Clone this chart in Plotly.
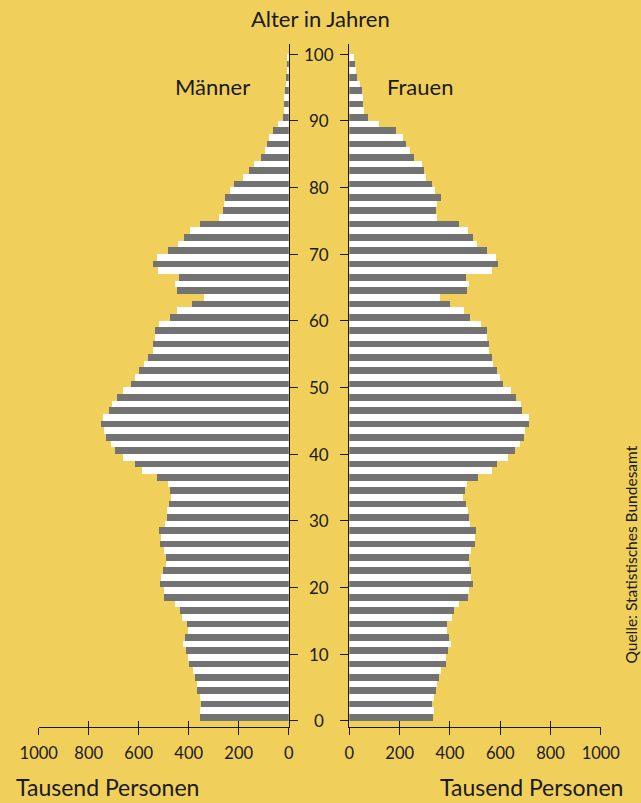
import plotly.graph_objects as go

# ---------------- data ----------------
ages = list(range(100))  # age in years, 0 .. 99

men = [358, 358, 354, 358, 370, 370, 378, 386, 402, 406,
       414, 426, 418, 406, 410, 430, 438, 458, 502, 502,
       518, 514, 506, 494, 494, 502, 518, 514, 522, 498,
       490, 490, 482, 474, 478, 486, 530, 590, 618, 666,
       698, 714, 734, 742, 754, 746, 722, 710, 690, 666,
       634, 618, 602, 582, 566, 546, 546, 538, 538, 522,
       478, 450, 390, 342, 450, 458, 442, 526, 546, 530,
       486, 446, 422, 398, 358, 282, 266, 262, 258, 238,
       222, 186, 162, 142, 114, 98, 90, 82, 66, 46,
       26, 22, 22, 20, 18, 14, 14, 10, 10, 8]

women = [336, 340, 332, 340, 348, 352, 356, 364, 384, 384,
         392, 404, 396, 388, 388, 408, 416, 436, 475, 479,
         495, 487, 487, 479, 479, 487, 503, 503, 507, 483,
         479, 475, 467, 455, 463, 471, 515, 567, 590, 634,
         662, 682, 698, 702, 714, 714, 690, 686, 666, 646,
         614, 602, 590, 574, 570, 555, 555, 547, 547, 527,
         483, 459, 400, 360, 471, 479, 467, 567, 594, 586,
         547, 511, 495, 475, 439, 352, 348, 352, 364, 344,
         332, 308, 300, 292, 260, 241, 225, 213, 185, 121,
         74, 58, 54, 54, 50, 42, 30, 26, 22, 18]

x_ticks = [0, 200, 400, 600, 800, 1000]
age_ticks = [0, 10, 20, 30, 40, 50, 60, 70, 80, 90, 100]

# ---------------- style ----------------
W, H = 641, 803
BG = "#F0CF5B"
GRAY = "#737373"
WHITE = "#FFFFFF"
INK = "#1A1A1A"
FONT = "Lato"

def fx(p):
    return p / W

def fy(p):
    return 1 - p / H

bar_colors = [GRAY if a % 2 == 0 else WHITE for a in ages]
bar_y = [a + 0.5 for a in ages]

fig = go.Figure()
fig.add_trace(go.Bar(x=men, y=bar_y, orientation="h", width=1,
                     marker=dict(color=bar_colors, line=dict(width=0)),
                     xaxis="x", yaxis="y", showlegend=False, hoverinfo="skip"))
fig.add_trace(go.Bar(x=women, y=bar_y, orientation="h", width=1,
                     marker=dict(color=bar_colors, line=dict(width=0)),
                     xaxis="x2", yaxis="y2", showlegend=False, hoverinfo="skip"))
# invisible traces to host the overlaid "inside tick" axes
fig.add_trace(go.Scatter(x=[], y=[], xaxis="x3", yaxis="y", showlegend=False))
fig.add_trace(go.Scatter(x=[], y=[], xaxis="x4", yaxis="y2", showlegend=False))

y_bottom_px, y_top_px = 726.7, 44.0
age0_px, px_per_year = 720.7, 6.667
yr = [-(y_bottom_px - age0_px) / px_per_year, (age0_px - y_top_px) / px_per_year]
ydom = [fy(y_bottom_px), fy(y_top_px)]

left_dom = [fx(38.7), fx(288.7)]
right_dom = [fx(349.4), fx(600.8)]

axis_common = dict(showgrid=False, zeroline=False, showline=True,
                   linecolor=INK, linewidth=1.4, tickcolor=INK, tickwidth=1.4,
                   automargin=False)

xfont = dict(family=FONT, size=16.5, color=INK)

fig.update_layout(
    width=W, height=H, autosize=False,
    margin=dict(l=0, r=0, t=0, b=0, pad=0, autoexpand=False),
    paper_bgcolor=BG, plot_bgcolor=BG,
    bargap=0, showlegend=False,
    xaxis=dict(domain=left_dom, range=[1000, 0], anchor="y",
               tickmode="array", tickvals=x_ticks, ticks="outside", ticklen=7,
               tickfont=xfont, ticklabelstandoff=4, fixedrange=True, **axis_common),
    xaxis3=dict(domain=left_dom, range=[1000, 0], anchor="y", overlaying="x",
                tickmode="array", tickvals=x_ticks, ticks="inside", ticklen=6,
                showticklabels=False, showgrid=False, zeroline=False, showline=False,
                tickcolor=INK, tickwidth=1.4, automargin=False),
    xaxis2=dict(domain=right_dom, range=[0, 1000], anchor="y2",
                tickmode="array", tickvals=x_ticks, ticks="outside", ticklen=7,
                tickfont=xfont, ticklabelstandoff=4, fixedrange=True, **axis_common),
    xaxis4=dict(domain=right_dom, range=[0, 1000], anchor="y2", overlaying="x2",
                tickmode="array", tickvals=x_ticks, ticks="inside", ticklen=6,
                showticklabels=False, showgrid=False, zeroline=False, showline=False,
                tickcolor=INK, tickwidth=1.4, automargin=False),
    yaxis=dict(domain=ydom, range=yr, anchor="x", side="right",
               tickmode="array", tickvals=age_ticks, ticks="outside", ticklen=8,
               showticklabels=False, **axis_common),
    yaxis2=dict(domain=ydom, range=yr, anchor="x2", side="left",
                tickmode="array", tickvals=age_ticks, ticks="outside", ticklen=8,
                showticklabels=False, **axis_common),
)

ann = []
for v in age_ticks:
    ann.append(dict(x=fx(319), xref="paper", y=v, yref="y", text=str(v),
                    showarrow=False, xanchor="center", yanchor="middle",
                    font=dict(family=FONT, size=17, color=INK)))

def label(text, x, y, size, anchor="center", angle=0):
    ann.append(dict(x=fx(x), y=fy(y), xref="paper", yref="paper", text=text,
                    showarrow=False, xanchor=anchor, yanchor="middle", textangle=angle,
                    font=dict(family=FONT, size=size, color=INK)))

label("Alter in Jahren", 320, 19, 22)
label("Männer", 212, 87, 22)
label("Frauen", 420, 87, 22)
label("Tausend Personen", 14, 787, 23, anchor="left")
label("Tausend Personen", 625, 787, 23, anchor="right")
label("Quelle: Statistisches Bundesamt", 630.5, 555, 15.5, angle=-90)

fig.update_layout(annotations=ann)

fig.write_html(
    "out.html",
    config={"responsive": False, "displayModeBar": False},
    post_script="document.body.style.margin='0';document.body.style.overflow='hidden';",
)
